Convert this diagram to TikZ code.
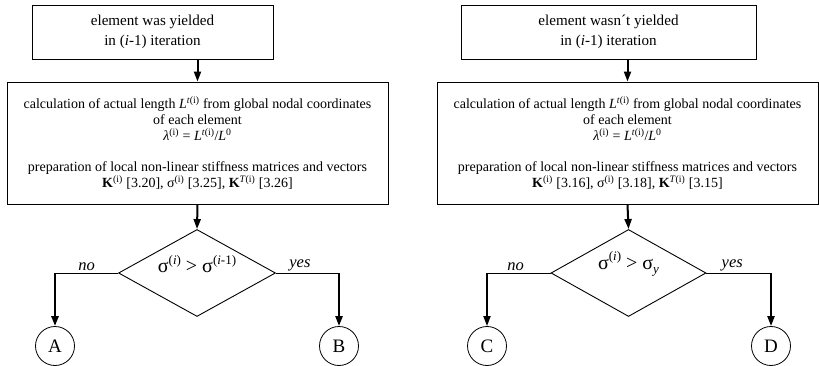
\documentclass[tikz,border=0pt]{standalone}
\usepackage{fontspec}
\setmainfont{Liberation Serif}
\usetikzlibrary{shapes.geometric,arrows.meta}
\newcommand{\sups}[1]{\textsuperscript{#1}}
\newcommand{\dsup}[1]{\raisebox{0.42em}{\fontsize{13}{14}\selectfont #1}}
\newcommand{\dsub}[1]{\raisebox{-0.22em}{\fontsize{13}{14}\selectfont #1}}
\begin{document}
\begin{tikzpicture}[x=1pt,y=-1pt,
  box/.style={draw,line width=0.9pt,rectangle,inner sep=0pt,align=center},
  topbox/.style={box,font=\fontsize{15.1}{19.5}\selectfont,minimum height=54pt},
  calcbox/.style={box,font=\fontsize{14}{16}\selectfont,minimum width=381pt,minimum height=122pt},
  dec/.style={draw,line width=0.9pt,diamond,inner sep=0pt,minimum height=87pt},
  conn/.style={draw,circle,line width=0.8pt,minimum size=39pt,inner sep=0pt,font=\fontsize{19}{20}\selectfont},
  flow/.style={line width=2pt,-{Triangle[length=10pt,width=7pt]}},
  branch/.style={line width=0.9pt},
  lab/.style={font=\fontsize{16.5}{18}\selectfont\itshape,above,inner sep=1.5pt},
  dtext/.style={font=\fontsize{20}{22}\selectfont},
]
\useasboundingbox (0,0) rectangle (819,366);

% ---------- left flow ----------
\node[topbox,minimum width=241pt] (t1) at (152.5,32) {element was yielded\\in (\textit{i}-1) iteration};
\node[calcbox] (c1) at (197.5,143) {calculation of actual length \textit{L}\sups{\textit{t}(i)} from global nodal coordinates\\
of each element\\
\textit{λ}\sups{(i)} = \textit{L}\sups{\textit{t}(i)}/\textit{L}\sups{0}\\[15pt]
preparation of local non-linear stiffness matrices and vectors\\
\textbf{K}\sups{(i)} [3.20], σ\sups{(i)} [3.25], \textbf{K}\sups{\textit{T}(i)} [3.26]};
\node[dec,minimum width=157pt,label={[dtext,yshift=9pt]center:σ\dsup{(\textit{i})} > σ\dsup{(\textit{i}-1)}}] (d1) at (197,273) {};
\node[conn] (A) at (55,346) {A};
\node[conn] (B) at (339,346) {B};
\coordinate (a1) at (A |- d1.west);
\coordinate (b1) at (B |- d1.east);

\draw[flow] (c1.north |- t1.south) -- (c1.north);
\draw[flow] (c1.south) -- (d1.north);
\draw[branch] (d1.west) -- node[lab,pos=0.5] {no} (a1);
\draw[branch] (d1.east) -- node[lab,pos=0.38] {yes} (b1);
\draw[flow,line width=2.6pt] (a1) -- (A.north);
\draw[flow,line width=2.2pt] (b1) -- (B.north);

% ---------- right flow ----------
\node[topbox,minimum width=295pt] (t2) at (608.5,32) {element wasn´t yielded\\in (\textit{i}-1) iteration};
\node[calcbox] (c2) at (627.5,143) {calculation of actual length \textit{L}\sups{\textit{t}(i)} from global nodal coordinates\\
of each element\\
\textit{λ}\sups{(i)} = \textit{L}\sups{\textit{t}(i)}/\textit{L}\sups{0}\\[15pt]
preparation of local non-linear stiffness matrices and vectors\\
\textbf{K}\sups{(i)} [3.16], σ\sups{(i)} [3.18], \textbf{K}\sups{\textit{T}(i)} [3.15]};
\node[dec,minimum width=155pt,label={[dtext,yshift=9pt]center:σ\dsup{(\textit{i})} > σ\dsub{\textit{y}}}] (d2) at (628.5,273) {};
\node[conn] (C) at (487,346) {C};
\node[conn] (D) at (771,346) {D};
\coordinate (c2a) at (C |- d2.west);
\coordinate (d2a) at (D |- d2.east);

\draw[flow] (c2.north |- t2.south) -- (c2.north);
\draw[flow] (c2.south) -- (d2.north);
\draw[branch] (d2.west) -- node[lab,pos=0.55] {no} (c2a);
\draw[branch] (d2.east) -- node[lab,pos=0.4] {yes} (d2a);
\draw[flow,line width=1.7pt] (c2a) -- (C.north);
\draw[flow,line width=2.1pt] (d2a) -- (D.north);
\end{tikzpicture}
\end{document}
